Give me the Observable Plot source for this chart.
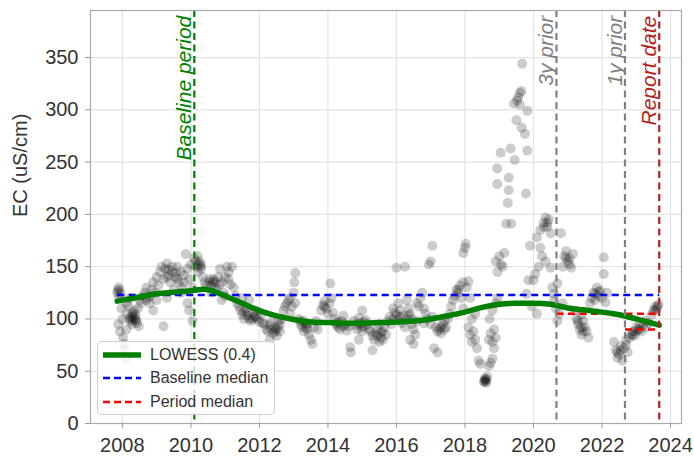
<!DOCTYPE html>
<html>
<head>
<meta charset="utf-8">
<script src="https://cdn.jsdelivr.net/npm/d3@7"></script>
<script src="https://cdn.jsdelivr.net/npm/@observablehq/plot@0.6"></script>
<style>
  body { margin: 0; background: white; font-family: "Liberation Sans", Arial, sans-serif; }
  #chart { position: relative; width: 694px; height: 461px; }
  .legend { position: absolute; left: 97px; top: 341px; width: 178px; height: 74px; box-sizing: border-box;
    background: rgba(255,255,255,0.8); border: 1.5px solid #cfcfcf; border-radius: 4px; padding-top: 1px;
    font-size: 16px; color: #333; }
  .legend .row { display: flex; align-items: center; height: 23.5px; }
  .legend svg { margin-left: 5px; margin-right: 9px; }
</style>
</head>
<body>
<div id="chart"></div>
<script>
// ---- data ----
const xTicks = [2008, 2010, 2012, 2014, 2016, 2018, 2020, 2022, 2024];
const yTicks = [0, 50, 100, 150, 200, 250, 300, 350];

const samples2008to2011 = [
[2007.85,125],[2007.88,130],[2007.92,128],[2007.9,121],[2007.88,95],[2007.93,88],[2007.97,110],[2008.0,100],[2008.02,82],[2008.05,76],[2008.08,70],[2008.1,62],[2008.12,90],[2008.12,115],
[2008.15,105],[2008.18,112],[2008.2,100],[2008.22,120],[2008.25,98],[2008.28,95],[2008.3,103],[2008.35,108],[2008.38,104],[2008.4,100],[2008.45,110],[2008.48,93],[2008.5,118],[2008.55,115],[2008.6,122],[2008.4,98],[2008.3,106],
[2008.65,125],[2008.7,130],[2008.75,120],[2008.8,115],[2008.85,128],[2008.9,135],[2008.9,108],[2008.95,125],[2009.0,140],[2009.0,118],[2009.05,132],[2009.1,145],[2009.15,150],[2009.2,138],[2009.2,93],[2009.25,148],[2009.3,153],[2009.3,120],[2009.35,142],[2009.4,135],[2009.45,145],[2009.5,128],
[2009.55,140],[2009.6,150],[2009.65,135],[2009.7,145],[2009.7,125],[2009.75,130],[2009.8,142],[2009.85,162],[2009.9,148],[2009.9,115],[2009.95,138],[2009.95,108],[2010.0,152],[2010.05,130],[2010.05,98],
[2010.1,158],[2010.15,150],[2010.2,145],[2010.2,160],[2010.25,155],[2010.3,148],[2010.3,152],[2010.35,140],[2010.4,135],[2010.45,132],
[2010.55,138],[2010.6,132],[2010.6,125],[2010.65,135],[2010.7,130],[2010.75,128],[2010.8,140],[2010.85,148],[2010.9,135],[2010.9,118],[2010.95,125],[2011.0,140],[2011.0,122],[2011.05,150],[2011.1,145],[2011.15,133],[2011.2,150],[2011.25,130],[2011.3,122],
[2011.35,115],[2011.4,112],[2011.45,108],[2011.5,104],[2011.5,120],[2011.55,100],[2011.6,110],[2011.65,106],[2011.7,100],[2011.7,118],[2011.75,98],[2011.8,105],[2011.85,102],[2011.9,108],[2011.95,100]
];
const samples2012to2015 = [
[2012.0,97],[2012.05,104],[2012.1,96],[2012.15,95],[2012.2,90],[2012.25,88],[2012.3,94],[2012.3,80],[2012.35,97],[2012.4,86],[2012.45,92],[2012.5,90],[2012.5,84],[2012.55,98],[2012.6,95],[2012.65,100],
[2012.7,108],[2012.75,112],[2012.8,115],[2012.85,118],[2012.9,120],[2012.9,105],[2012.95,112],[2013.0,125],[2013.02,135],[2013.05,144],[2013.05,115],
[2013.15,100],[2013.2,95],[2013.25,92],[2013.3,88],[2013.3,98],[2013.35,96],[2013.4,90],[2013.45,85],[2013.5,80],[2013.55,76],[2013.6,92],[2013.65,98],[2013.7,90],
[2013.8,108],[2013.85,113],[2013.9,117],[2013.95,110],[2014.0,105],[2014.05,115],[2014.07,134],[2014.1,120],[2014.15,106],
[2014.2,100],[2014.25,96],[2014.3,92],[2014.35,90],[2014.4,98],[2014.45,103],[2014.5,95],[2014.55,89],[2014.6,93],[2014.65,73],[2014.67,68],
[2014.75,98],[2014.8,94],[2014.85,90],[2014.9,101],[2014.9,80],[2014.95,96],[2015.0,88],[2015.0,108],[2015.05,93],[2015.1,99],[2015.15,95],[2015.2,90],
[2015.25,88],[2015.3,84],[2015.3,70],[2015.35,80],[2015.4,86],[2015.45,90],[2015.5,78],[2015.5,95],[2015.55,82],[2015.6,88],[2015.65,92],[2015.7,85],
[2015.75,98],[2015.8,102],[2015.85,95],[2015.9,100],[2015.9,110],[2015.95,106]
];
const samples2016to2019 = [
[2016.0,104],[2016.0,149],[2016.05,99],[2016.05,115],[2016.1,108],[2016.15,96],[2016.2,103],[2016.25,92],[2016.25,150],
[2016.3,100],[2016.3,118],[2016.35,110],[2016.4,105],[2016.4,80],[2016.45,95],[2016.5,90],[2016.5,76],[2016.55,85],[2016.6,115],[2016.6,98],[2016.65,112],
[2016.7,120],[2016.75,125],[2016.8,110],[2016.8,96],[2016.85,105],[2016.9,100],[2016.95,152],[2017.0,155],[2017.0,95],[2017.05,170],[2017.05,102],[2017.1,72],[2017.2,68],
[2017.15,92],[2017.2,88],[2017.25,90],[2017.3,86],[2017.35,95],[2017.4,98],[2017.45,92],[2017.5,100],[2017.55,105],
[2017.6,112],[2017.65,118],[2017.7,122],[2017.75,128],[2017.8,125],[2017.85,132],[2017.9,120],[2017.95,135],[2017.95,110],[2017.95,163],[2018.0,168],[2018.02,172],
[2018.05,130],[2018.1,136],[2018.1,92],[2018.15,120],[2018.15,85],[2018.2,78],[2018.25,88],[2018.3,80],[2018.2,100],[2018.3,105],[2018.35,72],[2018.4,60],[2018.45,57],
[2018.55,40],[2018.58,43],[2018.6,42],[2018.62,39],[2018.65,45],
[2018.7,55],[2018.75,58],[2018.8,62],[2018.7,80],[2018.75,86],[2018.8,78],[2018.85,90],[2018.85,72],[2018.9,82],[2018.72,100],[2018.8,108],[2018.9,115],[2018.95,120],
[2018.9,155],[2018.95,145],[2018.94,229],[2018.94,244],[2019.0,160],[2019.04,259],[2019.1,150],[2019.15,163],[2019.2,191],[2019.25,211],[2019.28,223],[2019.28,235],[2019.33,263],[2019.35,191],[2019.43,306],[2019.45,252],[2019.5,290],[2019.52,309],[2019.6,316],[2019.65,318],[2019.65,283],[2019.67,344],[2019.75,277],[2019.78,220],[2019.82,299],[2019.82,261],
[2019.8,124],[2019.9,170],[2019.85,137],[2019.95,112]
];
const samples2020to2023 = [
[2020.0,137],[2020.05,143],[2020.1,105],[2020.1,178],[2020.15,150],[2020.2,168],[2020.2,185],[2020.25,160],[2020.3,192],[2020.35,155],[2020.35,197],[2020.4,188],[2020.45,195],[2020.5,182],[2020.5,149],
[2020.55,130],[2020.6,124],[2020.6,118],[2020.65,110],[2020.7,134],[2020.7,98],[2020.75,105],[2020.8,182],[2020.85,115],
[2020.85,150],[2020.9,160],[2020.95,165],[2021.0,155],[2021.05,158],[2021.1,149],[2021.15,162],
[2021.2,108],[2021.25,100],[2021.3,95],[2021.35,90],[2021.4,85],[2021.45,98],[2021.5,92],[2021.55,88],[2021.6,82],[2021.4,104],
[2021.65,115],[2021.7,120],[2021.75,125],[2021.8,118],[2021.85,130],[2021.9,122],[2021.95,127],[2022.0,120],[2022.05,159],[2022.05,143],[2022.1,116],[2022.15,125],
[2022.35,78],[2022.4,70],[2022.45,63],[2022.5,66],[2022.55,74],[2022.6,60],[2022.65,72],[2022.7,80],[2022.75,68],
[2022.8,82],[2022.85,85],[2022.9,88],[2022.95,84],[2023.0,92],[2023.05,90],[2023.1,95],[2023.15,88],[2023.2,94],[2023.25,98],[2023.3,92],[2023.35,96],
[2023.45,104],[2023.5,108],[2023.55,112],[2023.6,110],[2023.65,114]
];
// darker (overlapping) clusters seen in the reference
const samplesDenseClusters = [
[2007.87,127],[2007.95,124],[2008.25,102],[2008.3,99],[2008.35,101],[2008.42,96],[2008.7,118],[2008.8,122],
[2009.3,140],[2009.35,147],[2009.45,150],[2009.55,144],[2009.6,138],[2009.8,135],[2010.15,155],[2010.22,152],[2010.28,150],
[2010.55,135],[2010.65,138],[2010.7,136],[2010.85,133],[2011.1,138],[2011.55,107],[2011.65,103],[2011.8,100],[2011.9,102],
[2012.35,90],[2012.45,88],[2012.55,92],[2012.6,88],[2013.2,98],[2013.35,92],[2013.4,95],[2013.9,112],
[2014.25,94],[2014.3,97],[2014.45,93],[2014.9,95],[2015.0,92],[2015.05,97],[2015.45,84],[2015.55,87],[2015.6,80],
[2016.1,102],[2016.35,103],[2016.45,100],[2017.3,92],[2017.4,90],[2017.8,128],[2018.57,41],[2018.6,40],[2018.63,42],
[2019.05,152],[2019.55,312],[2019.6,305],[2020.3,188],[2020.4,192],[2020.95,158],[2021.05,152],
[2021.3,98],[2021.4,92],[2021.45,88],[2021.8,124],[2021.9,126],[2022.45,68],[2022.55,70],[2022.7,75],
[2022.9,85],[2023.0,88],[2023.1,90],[2023.55,108],[2023.62,112]
];

const lowessYear = [2007.85, 2008.5, 2009.0, 2009.5, 2010.0, 2010.4, 2010.6, 2011.0, 2011.5, 2012.0, 2012.5, 2013.0, 2013.5, 2014.0, 2014.5, 2015.0, 2015.5, 2016.0, 2016.5, 2017.0, 2017.5, 2018.0, 2018.5, 2019.0, 2019.5, 2020.0, 2020.5, 2021.0, 2021.5, 2022.0, 2022.5, 2023.0, 2023.67];
const lowessEC   = [117, 121, 124, 125.5, 127, 128.5, 127, 122, 115, 108, 103, 99.5, 97, 96.5, 96, 96, 96.5, 97, 98, 100, 103, 106.5, 111, 114, 115, 115, 114, 110.5, 108.5, 106.5, 104, 100, 94];

const baselineMedian = 123;
const baselineStart = 2007.85;
const reportDate = 2023.67;
const periodStarts = [2020.67, 2022.67];
const periodMedians = [105, 90];

const eventYears  = [2010.1, 2020.67, 2022.67, 2023.67];
const eventLabels = ["Baseline period", "3y prior", "1y prior", "Report date"];
const eventColors = ["#008000", "#808080", "#808080", "#b22222"];

const legendLabels = ["LOWESS (0.4)", "Baseline median", "Period median"];
const legendColors = ["#008000", "#0000ff", "#ff0000"];
const legendDash   = [null, "7,4", "7,4"];
const legendWidth  = [5.5, 2.5, 2.5];

// ---- build ----
const samples = [...samples2008to2011, ...samples2012to2015, ...samples2016to2019, ...samples2020to2023, ...samplesDenseClusters]
  .map(([t, v]) => ({t, v}));
const lowess = lowessYear.map((t, i) => ({t, v: lowessEC[i]}));
const baseline = [{x1: baselineStart, x2: reportDate, y: baselineMedian}];
const periods = periodStarts.map((s, i) => ({x1: s, x2: reportDate, y: periodMedians[i]}));
const events = eventYears.map((t, i) => ({t, label: eventLabels[i], color: eventColors[i]}));

const chart = Plot.plot({
  width: 694,
  height: 461,
  marginLeft: 90,
  marginRight: 13,
  marginTop: 10,
  marginBottom: 38,
  x: {domain: [2007.07, 2024.32]},
  y: {domain: [0, 395]},
  style: {fontFamily: "'Liberation Sans', Arial, sans-serif", fontSize: "20px", color: "#333", background: "white"},
  marks: [
    Plot.gridX(xTicks, {stroke: "#e3e3e3", strokeOpacity: 1, strokeWidth: 1.2}),
    Plot.gridY(yTicks, {stroke: "#e3e3e3", strokeOpacity: 1, strokeWidth: 1.2}),
    Plot.dot(samples, {x: "t", y: "v", r: 5, fill: "black", fillOpacity: 0.2, stroke: null}),
    Plot.link(baseline, {x1: "x1", x2: "x2", y1: "y", y2: "y", stroke: "#0000ff", strokeWidth: 2.5, strokeDasharray: "7,4.5"}),
    Plot.link(periods, {x1: "x1", x2: "x2", y1: "y", y2: "y", stroke: "#ff0000", strokeWidth: 2.5, strokeDasharray: "7,4.5"}),
    Plot.line(lowess, {x: "t", y: "v", stroke: "#008000", strokeWidth: 5.5, curve: "monotone-x"}),
    Plot.ruleX(events, {x: "t", stroke: "color", strokeWidth: 2.2, strokeDasharray: "7,4.5"}),
    Plot.text(events, {x: "t", y: 390, text: "label", fill: "color", rotate: -90, textAnchor: "end",
      lineAnchor: "bottom", dx: -3, fontSize: 21, fontStyle: "italic"}),
    Plot.frame({stroke: "#aaa", strokeWidth: 1.2}),
    Plot.axisX(xTicks, {tickFormat: d => String(d), tickSize: 5, tickPadding: 9, stroke: "#999", fill: "#333", fontSize: 20, label: null}),
    Plot.axisY(yTicks, {tickSize: 5, tickPadding: 7, stroke: "#999", fill: "#333", fontSize: 20, label: null}),
    Plot.text(["EC (uS/cm)"], {frameAnchor: "left", dx: -70, rotate: -90, fontSize: 20, fill: "#333"})
  ]
});

const root = document.getElementById("chart");
root.appendChild(chart);

const legend = document.createElement("div");
legend.className = "legend";
legendLabels.forEach((lab, i) => {
  const row = document.createElement("div");
  row.className = "row";
  const ns = "http://www.w3.org/2000/svg";
  const svg = document.createElementNS(ns, "svg");
  svg.setAttribute("width", 38); svg.setAttribute("height", 10);
  const ln = document.createElementNS(ns, "line");
  ln.setAttribute("x1", 0); ln.setAttribute("x2", 38); ln.setAttribute("y1", 5); ln.setAttribute("y2", 5);
  ln.setAttribute("stroke", legendColors[i]); ln.setAttribute("stroke-width", legendWidth[i]);
  if (legendDash[i]) ln.setAttribute("stroke-dasharray", legendDash[i]);
  svg.appendChild(ln);
  const span = document.createElement("span");
  span.textContent = lab;
  row.appendChild(svg); row.appendChild(span);
  legend.appendChild(row);
});
root.appendChild(legend);
</script>
</body>
</html>
